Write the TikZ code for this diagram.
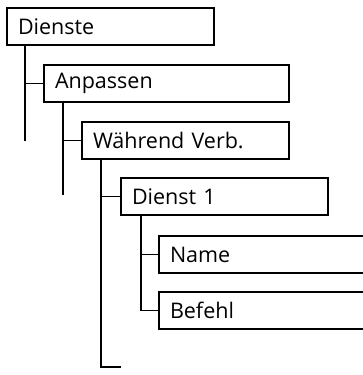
\documentclass[tikz,border=0pt]{standalone}
\usepackage{fontspec}
\setmainfont{Open Sans}
\begin{document}
\begin{tikzpicture}[x=1pt,y=-1pt,
  box/.style={draw, line width=1.2pt, anchor=north west, inner xsep=11pt, inner ysep=0pt,
    outer sep=0pt, minimum height=37pt, align=left, font=\fontsize{21.5}{25}\selectfont},
  conn/.style={line width=1.2pt}]
\useasboundingbox (0,0) rectangle (363,375);
\clip (0,0) rectangle (363,375);
\node[box, text width=185pt] (d) at (7,8) {Dienste};
\node[box, text width=223pt] (a) at (44,65) {Anpassen};
\node[box, text width=185pt] (w) at (82,122) {Während Verb.};
\node[box, text width=185pt] (d1) at (121,178) {Dienst 1};
\node[box, text width=200pt] (n) at (159,236) {Name};
\node[box, text width=200pt] (b) at (159,292) {Befehl};
\coordinate (e1) at (25,141);
\coordinate (e2) at (63,195);
\coordinate (e3) at (101,367);
\coordinate (e3b) at (121,367);
\coordinate (x4) at (141,0);
\draw[conn] (d.south west -| e1) -- (e1);
\draw[conn] (a.west -| e1) -- (a.west);
\draw[conn] (a.south west -| e2) -- (e2);
\draw[conn] (w.west -| e2) -- (w.west);
\draw[conn] (w.south west -| e3) -- (e3) -- (e3b);
\draw[conn] (d1.west -| e3) -- (d1.west);
\draw[conn] (d1.south west -| x4) |- (b.west);
\draw[conn] (n.west -| x4) -- (n.west);
\end{tikzpicture}
\end{document}
